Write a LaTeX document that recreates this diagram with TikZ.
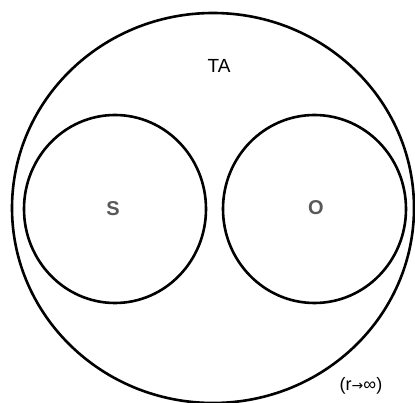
\documentclass[tikz,border=0pt]{standalone}
\usepackage{fontspec}
\setmainfont{Liberation Sans}
\newfontfamily\symfont{DejaVu Sans}
\begin{document}
\begin{tikzpicture}[x=1pt,y=-1pt,
  ring/.style={draw=black,line width=2.6pt},
  lbl/.style={font=\fontsize{19}{19}\selectfont,inner sep=0pt},
  inner/.style={font=\fontsize{20}{20}\selectfont\bfseries,text=black!65,inner sep=0pt}]
\useasboundingbox (0,0) rectangle (415,403);
\clip (0,0) rectangle (415,403);
\fill[white] (0,0) rectangle (415,403);
\draw[ring] (213,208) ellipse [x radius=201, y radius=195];
\draw[ring] (115,209) ellipse [x radius=91, y radius=94];
\draw[ring] (314.5,209) ellipse [x radius=91.5, y radius=94];
\node[lbl] (ta) at (219,66) {TA};
\node[inner] (s) at (113,209) {S};
\node[inner] (o) at (316,208) {O};
\node[lbl,font=\fontsize{18}{18}\selectfont] (r) at (361,386) {(r{\symfont\fontsize{14}{14}\selectfont→}∞)};
\end{tikzpicture}
\end{document}
